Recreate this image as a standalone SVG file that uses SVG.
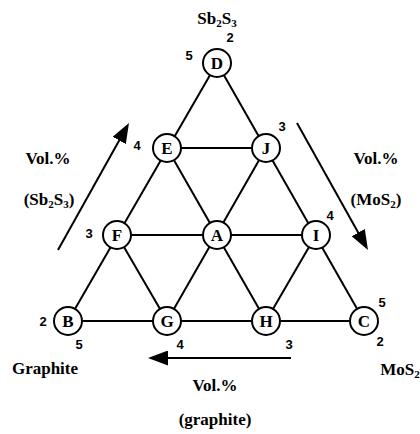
<svg xmlns="http://www.w3.org/2000/svg" width="420" height="434" viewBox="0 0 420 434">
<style>
.edge{stroke:#000;stroke-width:2;fill:none}
.arrow{stroke:#000;stroke-width:2;fill:none;marker-end:url(#ah)}
.node circle{fill:#fff;stroke:#000;stroke-width:2}
.node text{font-family:"Liberation Serif","Times New Roman",serif;font-weight:bold;font-size:17px;text-anchor:middle}
.lbl{font-family:"Liberation Serif","Times New Roman",serif;font-weight:bold;font-size:17px;text-anchor:middle}
.num{font-family:"Liberation Sans",Arial,sans-serif;font-weight:bold;font-size:13px;text-anchor:middle}
.sub{font-size:11px}
</style>
<defs>
<marker id="ah" markerUnits="userSpaceOnUse" markerWidth="20" markerHeight="15" refX="3" refY="7.5" orient="auto">
<path d="M0,0 L20,7.5 L0,15 z" fill="#000"/>
</marker>
</defs>
<rect width="420" height="434" fill="#fff"/>
<g id="connectors">
<line class="edge" x1="68" y1="321" x2="364" y2="321"/>
<line class="edge" x1="117" y1="235" x2="316" y2="235"/>
<line class="edge" x1="167" y1="148" x2="266" y2="148"/>
<line class="edge" x1="68" y1="321" x2="217" y2="63"/>
<line class="edge" x1="364" y1="321" x2="217" y2="63"/>
<line class="edge" x1="167" y1="321" x2="266" y2="148"/>
<line class="edge" x1="266" y1="321" x2="316" y2="235"/>
<line class="edge" x1="167" y1="321" x2="117" y2="235"/>
<line class="edge" x1="266" y1="321" x2="167" y2="148"/>
<line class="arrow" x1="58" y1="250" x2="120.7" y2="137.8"/>
<line class="arrow" x1="297" y1="123" x2="359.7" y2="235.2"/>
<line class="arrow" x1="291" y1="358" x2="165" y2="358"/>
</g>
<g id="D" class="node"><circle cx="217" cy="63" r="14"/><text x="217" y="69">D</text></g>
<g id="E" class="node"><circle cx="167" cy="148" r="14"/><text x="167" y="154">E</text></g>
<g id="J" class="node"><circle cx="266" cy="148" r="14"/><text x="266" y="154">J</text></g>
<g id="F" class="node"><circle cx="117" cy="235" r="14"/><text x="117" y="241">F</text></g>
<g id="A" class="node"><circle cx="217" cy="235" r="14"/><text x="217" y="241">A</text></g>
<g id="I" class="node"><circle cx="316" cy="235" r="14"/><text x="316" y="241">I</text></g>
<g id="B" class="node"><circle cx="68" cy="321" r="14"/><text x="68" y="327">B</text></g>
<g id="G" class="node"><circle cx="167" cy="321" r="14"/><text x="167" y="327">G</text></g>
<g id="H" class="node"><circle cx="266" cy="321" r="14"/><text x="266" y="327">H</text></g>
<g id="C" class="node"><circle cx="364" cy="321" r="14"/><text x="364" y="327">C</text></g>
<g id="labels">
<text class="lbl" x="217" y="24">Sb<tspan class="sub" dy="3">2</tspan><tspan dy="-3">S</tspan><tspan class="sub" dy="3">3</tspan></text>
<text class="lbl" x="48" y="164">Vol.%</text>
<text class="lbl" x="49" y="205">(Sb<tspan class="sub" dy="3">2</tspan><tspan dy="-3">S</tspan><tspan class="sub" dy="3">3</tspan><tspan dy="-3">)</tspan></text>
<text class="lbl" x="376" y="164">Vol.%</text>
<text class="lbl" x="376" y="205">(MoS<tspan class="sub" dy="3">2</tspan><tspan dy="-3">)</tspan></text>
<text class="lbl" x="45" y="374">Graphite</text>
<text class="lbl" x="400" y="375">MoS<tspan class="sub" dy="3">2</tspan></text>
<text class="lbl" x="215" y="391">Vol.%</text>
<text class="lbl" x="215" y="425">(graphite)</text>
<text class="num" x="230" y="42">2</text>
<text class="num" x="189" y="60">5</text>
<text class="num" x="137" y="150">4</text>
<text class="num" x="89" y="238">3</text>
<text class="num" x="282" y="131">3</text>
<text class="num" x="330" y="220">4</text>
<text class="num" x="43" y="326">2</text>
<text class="num" x="79" y="349">5</text>
<text class="num" x="180" y="349">4</text>
<text class="num" x="289" y="349">3</text>
<text class="num" x="382" y="307">5</text>
<text class="num" x="380" y="346">2</text>
</g>
</svg>
